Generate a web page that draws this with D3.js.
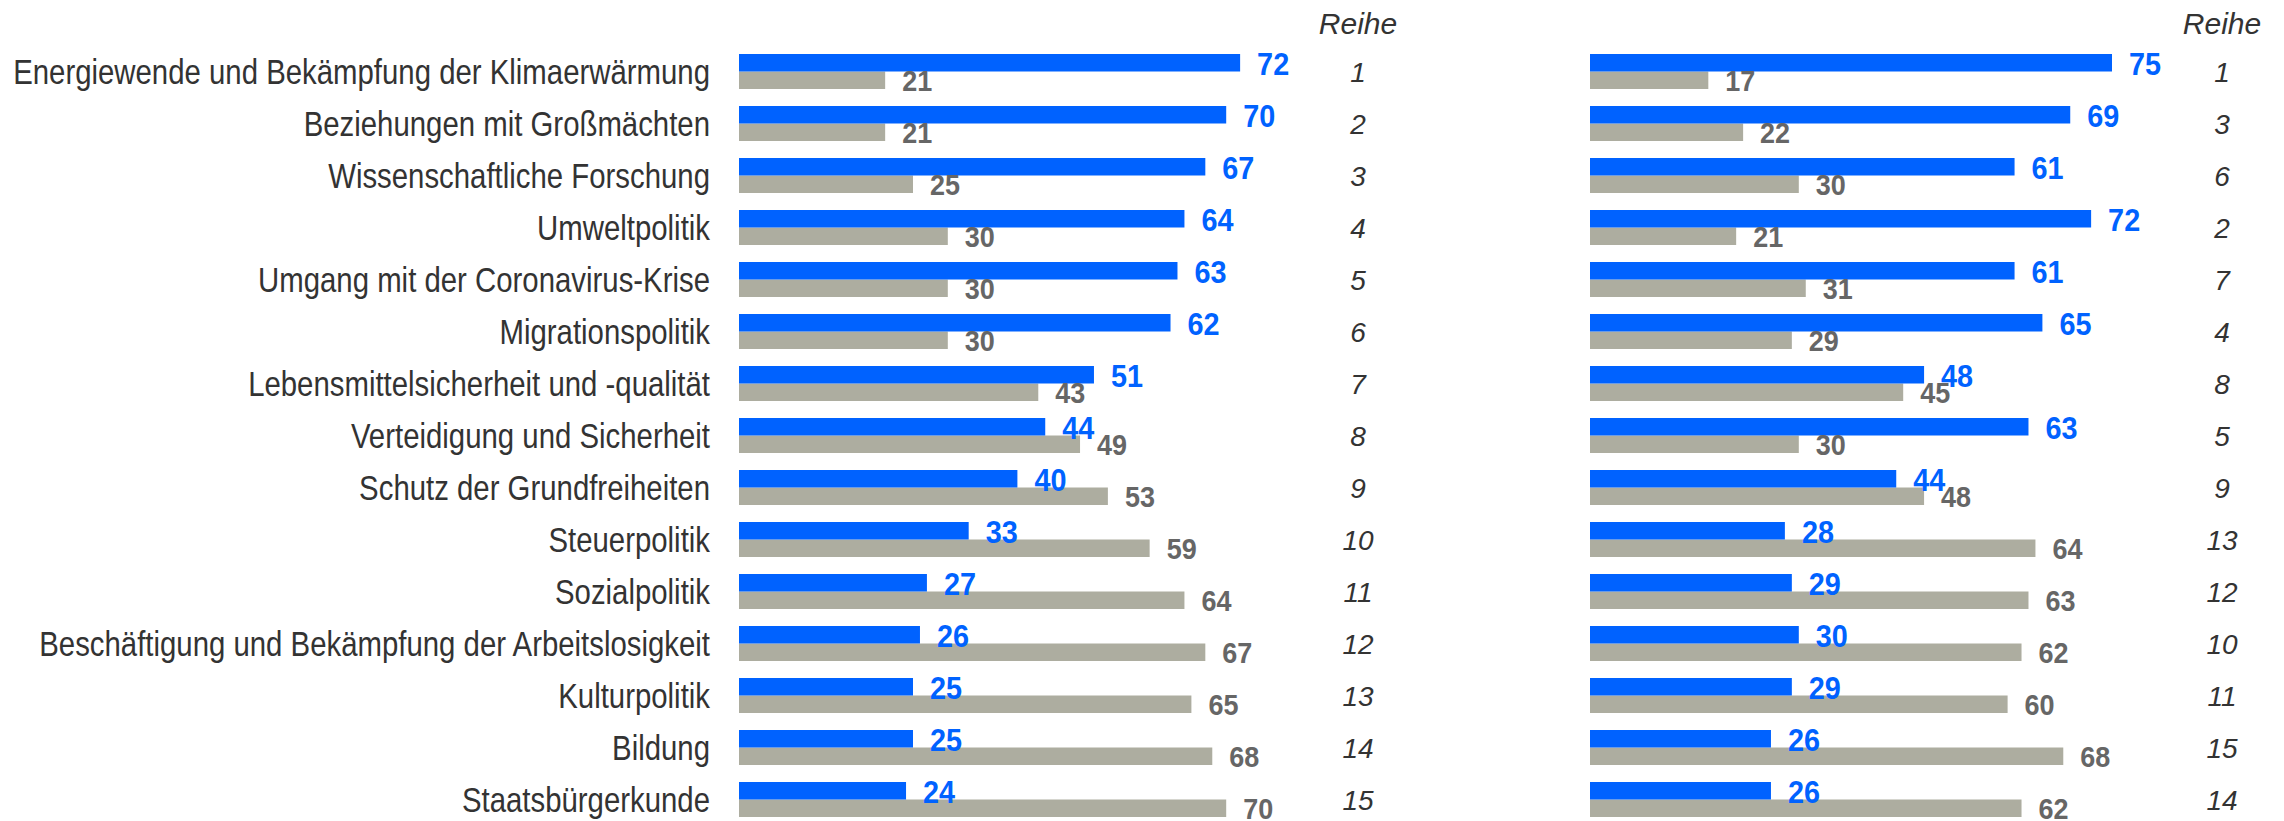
<!DOCTYPE html>
<html><head><meta charset="utf-8">
<script src="https://cdn.jsdelivr.net/npm/d3@7"></script>
<style>body{margin:0;background:#fff} svg{display:block}</style>
</head><body>
<svg id="chart" width="2284" height="821"></svg>
<script>
const categories = [
  "Energiewende und Bekämpfung der Klimaerwärmung",
  "Beziehungen mit Großmächten",
  "Wissenschaftliche Forschung",
  "Umweltpolitik",
  "Umgang mit der Coronavirus-Krise",
  "Migrationspolitik",
  "Lebensmittelsicherheit und -qualität",
  "Verteidigung und Sicherheit",
  "Schutz der Grundfreiheiten",
  "Steuerpolitik",
  "Sozialpolitik",
  "Beschäftigung und Bekämpfung der Arbeitslosigkeit",
  "Kulturpolitik",
  "Bildung",
  "Staatsbürgerkunde"
];
const leftBlue  = [72,70,67,64,63,62,51,44,40,33,27,26,25,25,24];
const leftGray  = [21,21,25,30,30,30,43,49,53,59,64,67,65,68,70];
const leftRank  = [1,2,3,4,5,6,7,8,9,10,11,12,13,14,15];
const rightBlue = [75,69,61,72,61,65,48,63,44,28,29,30,29,26,26];
const rightGray = [17,22,30,21,31,29,45,30,48,64,63,62,60,68,62];
const rightRank = [1,3,6,2,7,4,8,5,9,13,12,10,11,15,14];
const rankHeader = "Reihe";

const BLUE = "#0062FF", GRAYBAR = "#ADADA0", GRAYTXT = "#666666", TXT = "#333333";
const FONT = "'Liberation Sans', Arial, sans-serif";

const svg = d3.select("#chart");
const y = d3.scaleBand().domain(categories).range([45.5, 825.5])
  .paddingInner(17/52).paddingOuter(17/104);
const sub = d3.scaleBand().domain(["blue","gray"]).range([0, y.bandwidth()]);

// category labels
const labG = svg.append("g");
const labs = labG.selectAll("text").data(categories).join("text")
  .text(d => d)
  .attr("text-anchor", "end")
  .attr("dy", "0.35em")
  .style("font-family", FONT).style("font-size", "36px").style("fill", TXT);
let maxW = 0;
labs.each(function(){ maxW = Math.max(maxW, this.getComputedTextLength()); });
const kx = Math.min(1, 697 / maxW);
labs.attr("transform", d => `translate(710,${y(d) + y.bandwidth()/2}) scale(${kx},1)`);

const panels = [
  {x0: 739, blue: leftBlue, gray: leftGray, rank: leftRank, rankX: 1358},
  {x0: 1590, blue: rightBlue, gray: rightGray, rank: rightRank, rankX: 2222}
];

panels.forEach(p => {
  const x = d3.scaleLinear().domain([0, 100]).range([p.x0, p.x0 + 696]);
  const g = svg.append("g");
  const rows = categories.map((c, i) => ({c, b: p.blue[i], g: p.gray[i], r: p.rank[i]}));

  g.selectAll("rect.gray").data(rows).join("rect").attr("class","gray")
    .attr("x", x(0)).attr("y", d => y(d.c) + sub("gray"))
    .attr("width", d => x(d.g) - x(0)).attr("height", sub.bandwidth())
    .attr("fill", GRAYBAR);
  g.selectAll("rect.blue").data(rows).join("rect").attr("class","blue")
    .attr("x", x(0)).attr("y", d => y(d.c) + sub("blue"))
    .attr("width", d => x(d.b) - x(0)).attr("height", sub.bandwidth())
    .attr("fill", BLUE);

  g.selectAll("text.gv").data(rows).join("text").attr("class","gv")
    .attr("transform", d => `translate(${x(d.g) + 17},${y(d.c) + sub("gray") + sub.bandwidth() + 2}) scale(0.93,1)`)
    .text(d => d.g)
    .style("font-family", FONT).style("font-size", "29px").style("font-weight", "bold")
    .style("fill", GRAYTXT);
  g.selectAll("text.bv").data(rows).join("text").attr("class","bv")
    .attr("transform", d => `translate(${x(d.b) + 17},${y(d.c) + sub("blue") + sub.bandwidth() + 3}) scale(0.9,1)`)
    .text(d => d.b)
    .style("font-family", FONT).style("font-size", "32px").style("font-weight", "bold")
    .style("fill", BLUE);

  g.append("text").attr("x", p.rankX).attr("y", 34)
    .attr("text-anchor", "middle").text(rankHeader)
    .style("font-family", FONT).style("font-size", "30px").style("font-style", "italic")
    .style("fill", TXT);
  g.selectAll("text.rk").data(rows).join("text").attr("class","rk")
    .attr("x", p.rankX).attr("y", d => y(d.c) + y.bandwidth()/2)
    .attr("dy", "0.36em").attr("text-anchor", "middle")
    .text(d => d.r)
    .style("font-family", FONT).style("font-size", "28px").style("font-style", "italic")
    .style("fill", TXT);
});
</script>
</body></html>
